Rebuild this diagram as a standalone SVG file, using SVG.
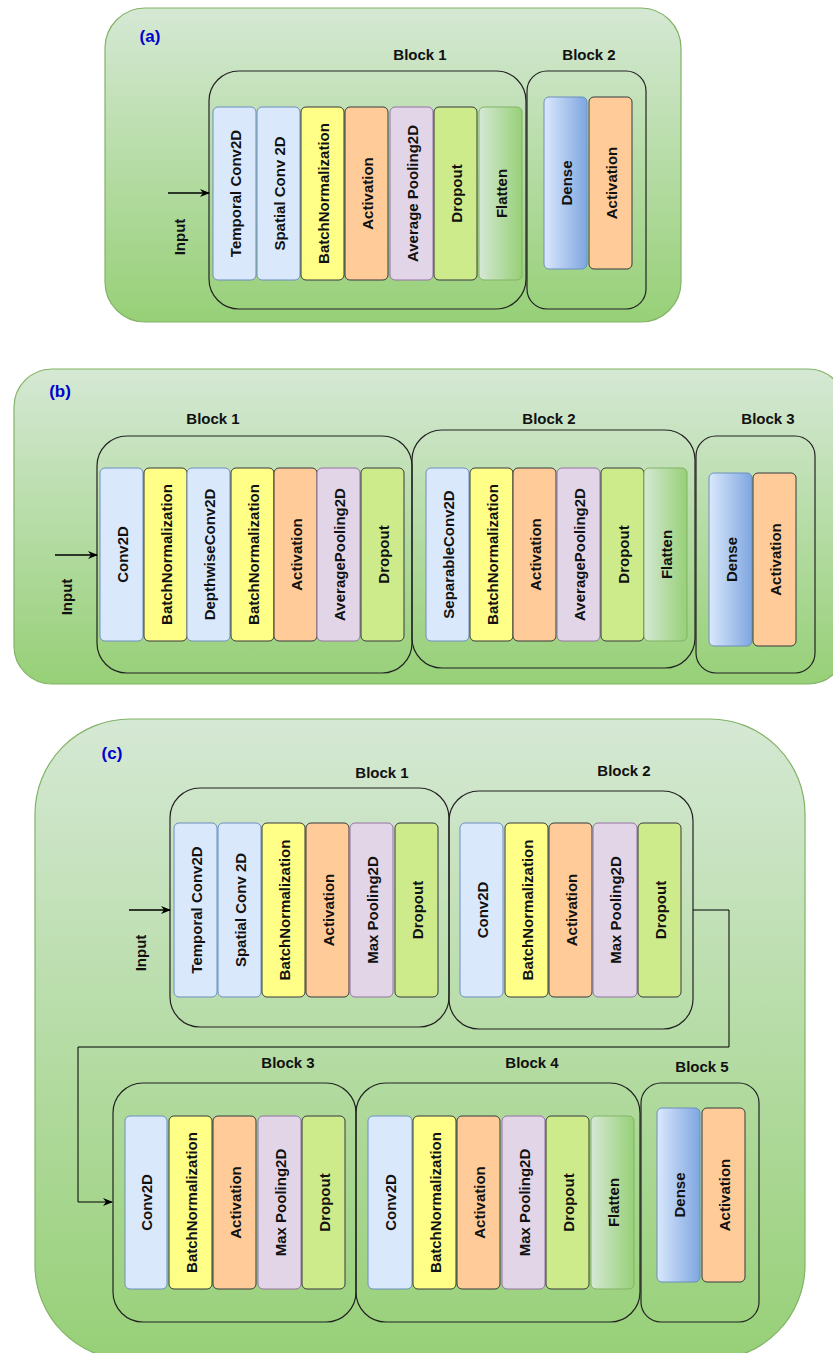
<svg xmlns="http://www.w3.org/2000/svg" width="833" height="1353" viewBox="0 0 833 1353">
<defs>
<linearGradient id="gPanel" x1="0" y1="0" x2="0" y2="1"><stop offset="0" stop-color="#d5e8d4"/><stop offset="1" stop-color="#97d077"/></linearGradient>
<linearGradient id="gFlat" x1="0" y1="0" x2="1" y2="0"><stop offset="0" stop-color="#d5e8d4"/><stop offset="1" stop-color="#97d077"/></linearGradient>
<linearGradient id="gDense" x1="0" y1="0" x2="1" y2="0"><stop offset="0" stop-color="#dae8fc"/><stop offset="1" stop-color="#7ea6e0"/></linearGradient>
<marker id="arr" viewBox="0 0 10 10" refX="9" refY="5" markerWidth="10" markerHeight="10" markerUnits="userSpaceOnUse" orient="auto"><path d="M0,1 L10,5 L0,9 L3,5 Z" fill="#000"/></marker>
<style>
.panel{fill:url(#gPanel);stroke:#82b366;stroke-width:1.2}
.blk{fill:none;stroke:#222;stroke-width:1.2}
.conv{fill:#dae8fc;stroke:#6c8ebf}
.bn{fill:#ffff88;stroke:#36393d}
.act{fill:#ffcc99;stroke:#36393d}
.pool{fill:#e1d5e7;stroke:#9673a6}
.drop{fill:#cdeb8b;stroke:#36393d}
.flat{fill:url(#gFlat);stroke:#82b366}
.dense{fill:url(#gDense);stroke:#6c8ebf}
text{font-family:"Liberation Sans",Arial,sans-serif;font-weight:bold;fill:#111}
.lt{font-size:15px;text-anchor:middle;dominant-baseline:central}
.bl{font-size:15px;text-anchor:middle;dominant-baseline:central}
.pl{font-size:17px;text-anchor:middle;dominant-baseline:central;fill:#0000cc}
.con{fill:none;stroke:#000;stroke-width:1.3}
</style>
</defs>

<!-- Panel (a) -->
<g id="panelA">
<rect class="panel" x="105" y="8" width="576" height="314" rx="40"/>
<text class="pl" x="150" y="36">(a)</text>
<text class="bl" x="420" y="54">Block 1</text>
<text class="bl" x="589" y="54">Block 2</text>
</g>
<g id="a-block1"><rect class="blk" x="209" y="71" width="317" height="238" rx="30"/></g>
<g id="a-block2"><rect class="blk" x="527" y="71" width="119" height="238" rx="20"/></g>
<g id="a-l1"><rect class="conv" x="213" y="107" width="43" height="173" rx="5"/><text class="lt" transform="rotate(-90 235 193.5)" x="235" y="193.5">Temporal Conv2D</text></g>
<g id="a-l2"><rect class="conv" x="257" y="107" width="43" height="173" rx="5"/><text class="lt" transform="rotate(-90 279 193.5)" x="279" y="193.5">Spatial Conv 2D</text></g>
<g id="a-l3"><rect class="bn" x="301" y="107" width="43" height="173" rx="5"/><text class="lt" transform="rotate(-90 323 193.5)" x="323" y="193.5">BatchNormalization</text></g>
<g id="a-l4"><rect class="act" x="345" y="107" width="43" height="173" rx="5"/><text class="lt" transform="rotate(-90 367 193.5)" x="367" y="193.5">Activation</text></g>
<g id="a-l5"><rect class="pool" x="390" y="107" width="43" height="173" rx="5"/><text class="lt" transform="rotate(-90 412 193.5)" x="412" y="193.5">Average Pooling2D</text></g>
<g id="a-l6"><rect class="drop" x="434" y="107" width="43" height="173" rx="5"/><text class="lt" transform="rotate(-90 456 193.5)" x="456" y="193.5">Dropout</text></g>
<g id="a-l7"><rect class="flat" x="479" y="107" width="43" height="173" rx="5"/><text class="lt" transform="rotate(-90 501 193.5)" x="501" y="193.5">Flatten</text></g>
<g id="a-l8"><rect class="dense" x="544" y="97" width="43" height="172" rx="5"/><text class="lt" transform="rotate(-90 566 183)" x="566" y="183">Dense</text></g>
<g id="a-l9"><rect class="act" x="589" y="97" width="43" height="172" rx="5"/><text class="lt" transform="rotate(-90 611 183)" x="611" y="183">Activation</text></g>
<g id="a-input"><text class="bl" transform="rotate(-90 179 237)" x="179" y="237">Input</text></g>

<!-- Panel (b) -->
<g id="panelB">
<rect class="panel" x="14" y="369" width="832" height="315" rx="38"/>
<text class="pl" x="60" y="391">(b)</text>
<text class="bl" x="213" y="418">Block 1</text>
<text class="bl" x="549" y="418">Block 2</text>
<text class="bl" x="768" y="418">Block 3</text>
</g>
<g id="b-block1"><rect class="blk" x="97" y="436" width="315" height="237" rx="30"/></g>
<g id="b-block2"><rect class="blk" x="412" y="430" width="283" height="238" rx="30"/></g>
<g id="b-block3"><rect class="blk" x="696" y="436" width="119" height="237" rx="20"/></g>
<g id="b-l1"><rect class="conv" x="100" y="468" width="43" height="173" rx="5"/><text class="lt" transform="rotate(-90 122 554.5)" x="122" y="554.5">Conv2D</text></g>
<g id="b-l2"><rect class="bn" x="144" y="468" width="43" height="173" rx="5"/><text class="lt" transform="rotate(-90 166 554.5)" x="166" y="554.5">BatchNormalization</text></g>
<g id="b-l3"><rect class="conv" x="187" y="468" width="43" height="173" rx="5"/><text class="lt" transform="rotate(-90 209 554.5)" x="209" y="554.5">DepthwiseConv2D</text></g>
<g id="b-l4"><rect class="bn" x="231" y="468" width="43" height="173" rx="5"/><text class="lt" transform="rotate(-90 253 554.5)" x="253" y="554.5">BatchNormalization</text></g>
<g id="b-l5"><rect class="act" x="274" y="468" width="43" height="173" rx="5"/><text class="lt" transform="rotate(-90 296 554.5)" x="296" y="554.5">Activation</text></g>
<g id="b-l6"><rect class="pool" x="317" y="468" width="43" height="173" rx="5"/><text class="lt" transform="rotate(-90 339 554.5)" x="339" y="554.5">AveragePooling2D</text></g>
<g id="b-l7"><rect class="drop" x="361" y="468" width="43" height="173" rx="5"/><text class="lt" transform="rotate(-90 383 554.5)" x="383" y="554.5">Dropout</text></g>
<g id="b-l8"><rect class="conv" x="426" y="468" width="43" height="173" rx="5"/><text class="lt" transform="rotate(-90 448 554.5)" x="448" y="554.5">SeparableConv2D</text></g>
<g id="b-l9"><rect class="bn" x="470" y="468" width="43" height="173" rx="5"/><text class="lt" transform="rotate(-90 492 554.5)" x="492" y="554.5">BatchNormalization</text></g>
<g id="b-l10"><rect class="act" x="513" y="468" width="43" height="173" rx="5"/><text class="lt" transform="rotate(-90 535 554.5)" x="535" y="554.5">Activation</text></g>
<g id="b-l11"><rect class="pool" x="557" y="468" width="43" height="173" rx="5"/><text class="lt" transform="rotate(-90 579 554.5)" x="579" y="554.5">AveragePooling2D</text></g>
<g id="b-l12"><rect class="drop" x="601" y="468" width="43" height="173" rx="5"/><text class="lt" transform="rotate(-90 623 554.5)" x="623" y="554.5">Dropout</text></g>
<g id="b-l13"><rect class="flat" x="644" y="468" width="43" height="173" rx="5"/><text class="lt" transform="rotate(-90 666 554.5)" x="666" y="554.5">Flatten</text></g>
<g id="b-l14"><rect class="dense" x="709" y="473" width="43" height="173" rx="5"/><text class="lt" transform="rotate(-90 731 559.5)" x="731" y="559.5">Dense</text></g>
<g id="b-l15"><rect class="act" x="753" y="473" width="43" height="173" rx="5"/><text class="lt" transform="rotate(-90 775 559.5)" x="775" y="559.5">Activation</text></g>
<g id="b-input"><text class="bl" transform="rotate(-90 66 597)" x="66" y="597">Input</text></g>

<!-- Panel (c) -->
<g id="panelC">
<rect class="panel" x="35" y="719" width="770" height="641" rx="95"/>
<text class="pl" x="112" y="753">(c)</text>
<text class="bl" x="382" y="772">Block 1</text>
<text class="bl" x="624" y="770">Block 2</text>
<text class="bl" x="288" y="1062">Block 3</text>
<text class="bl" x="532" y="1062">Block 4</text>
<text class="bl" x="702" y="1066">Block 5</text>
</g>
<g id="c-block1"><rect class="blk" x="170" y="788" width="279" height="239" rx="30"/></g>
<g id="c-block2"><rect class="blk" x="449" y="791" width="244" height="238" rx="30"/></g>
<g id="c-block3"><rect class="blk" x="113" y="1083" width="243" height="239" rx="30"/></g>
<g id="c-block4"><rect class="blk" x="356" y="1083" width="284" height="239" rx="30"/></g>
<g id="c-block5"><rect class="blk" x="641" y="1083" width="118" height="239" rx="20"/></g>
<g id="c-l1"><rect class="conv" x="174" y="823" width="43" height="174" rx="5"/><text class="lt" transform="rotate(-90 196 910)" x="196" y="910">Temporal Conv2D</text></g>
<g id="c-l2"><rect class="conv" x="218" y="823" width="43" height="174" rx="5"/><text class="lt" transform="rotate(-90 240 910)" x="240" y="910">Spatial Conv 2D</text></g>
<g id="c-l3"><rect class="bn" x="262" y="823" width="43" height="174" rx="5"/><text class="lt" transform="rotate(-90 284 910)" x="284" y="910">BatchNormalization</text></g>
<g id="c-l4"><rect class="act" x="306" y="823" width="43" height="174" rx="5"/><text class="lt" transform="rotate(-90 328 910)" x="328" y="910">Activation</text></g>
<g id="c-l5"><rect class="pool" x="350" y="823" width="43" height="174" rx="5"/><text class="lt" transform="rotate(-90 372 910)" x="372" y="910">Max Pooling2D</text></g>
<g id="c-l6"><rect class="drop" x="395" y="823" width="43" height="174" rx="5"/><text class="lt" transform="rotate(-90 417 910)" x="417" y="910">Dropout</text></g>
<g id="c-l7"><rect class="conv" x="460" y="823" width="43" height="174" rx="5"/><text class="lt" transform="rotate(-90 482 910)" x="482" y="910">Conv2D</text></g>
<g id="c-l8"><rect class="bn" x="505" y="823" width="43" height="174" rx="5"/><text class="lt" transform="rotate(-90 527 910)" x="527" y="910">BatchNormalization</text></g>
<g id="c-l9"><rect class="act" x="549" y="823" width="43" height="174" rx="5"/><text class="lt" transform="rotate(-90 571 910)" x="571" y="910">Activation</text></g>
<g id="c-l10"><rect class="pool" x="593" y="823" width="44" height="174" rx="5"/><text class="lt" transform="rotate(-90 615 910)" x="615" y="910">Max Pooling2D</text></g>
<g id="c-l11"><rect class="drop" x="638" y="823" width="43" height="174" rx="5"/><text class="lt" transform="rotate(-90 660 910)" x="660" y="910">Dropout</text></g>
<g id="c-l12"><rect class="conv" x="125" y="1116" width="42" height="173" rx="5"/><text class="lt" transform="rotate(-90 146 1202.5)" x="146" y="1202.5">Conv2D</text></g>
<g id="c-l13"><rect class="bn" x="169" y="1116" width="43" height="173" rx="5"/><text class="lt" transform="rotate(-90 191 1202.5)" x="191" y="1202.5">BatchNormalization</text></g>
<g id="c-l14"><rect class="act" x="213" y="1116" width="43" height="173" rx="5"/><text class="lt" transform="rotate(-90 235 1202.5)" x="235" y="1202.5">Activation</text></g>
<g id="c-l15"><rect class="pool" x="258" y="1116" width="43" height="173" rx="5"/><text class="lt" transform="rotate(-90 280 1202.5)" x="280" y="1202.5">Max Pooling2D</text></g>
<g id="c-l16"><rect class="drop" x="302" y="1116" width="43" height="173" rx="5"/><text class="lt" transform="rotate(-90 324 1202.5)" x="324" y="1202.5">Dropout</text></g>
<g id="c-l17"><rect class="conv" x="368" y="1116" width="44" height="173" rx="5"/><text class="lt" transform="rotate(-90 390 1202.5)" x="390" y="1202.5">Conv2D</text></g>
<g id="c-l18"><rect class="bn" x="413" y="1116" width="43" height="173" rx="5"/><text class="lt" transform="rotate(-90 435 1202.5)" x="435" y="1202.5">BatchNormalization</text></g>
<g id="c-l19"><rect class="act" x="457" y="1116" width="43" height="173" rx="5"/><text class="lt" transform="rotate(-90 479 1202.5)" x="479" y="1202.5">Activation</text></g>
<g id="c-l20"><rect class="pool" x="502" y="1116" width="43" height="173" rx="5"/><text class="lt" transform="rotate(-90 524 1202.5)" x="524" y="1202.5">Max Pooling2D</text></g>
<g id="c-l21"><rect class="drop" x="546" y="1116" width="43" height="173" rx="5"/><text class="lt" transform="rotate(-90 568 1202.5)" x="568" y="1202.5">Dropout</text></g>
<g id="c-l22"><rect class="flat" x="591" y="1116" width="43" height="173" rx="5"/><text class="lt" transform="rotate(-90 613 1202.5)" x="613" y="1202.5">Flatten</text></g>
<g id="c-l23"><rect class="dense" x="657" y="1108" width="43" height="174" rx="5"/><text class="lt" transform="rotate(-90 679 1195)" x="679" y="1195">Dense</text></g>
<g id="c-l24"><rect class="act" x="702" y="1108" width="43" height="174" rx="5"/><text class="lt" transform="rotate(-90 724 1195)" x="724" y="1195">Activation</text></g>
<g id="c-input"><text class="bl" transform="rotate(-90 140 953)" x="140" y="953">Input</text></g>

<!-- Connectors -->
<g id="connectors">
<line class="con" x1="168" y1="193" x2="209" y2="193" marker-end="url(#arr)" style="stroke-width:1.6"/>
<line class="con" x1="55" y1="555" x2="97" y2="555" marker-end="url(#arr)" style="stroke-width:1.6"/>
<line class="con" x1="129" y1="910" x2="170" y2="910" marker-end="url(#arr)" style="stroke-width:1.6"/>
<path class="con" d="M693,910 H729 V1047 H78 V1202 H112" marker-end="url(#arr)" style="stroke-width:1"/>
</g>
</svg>
